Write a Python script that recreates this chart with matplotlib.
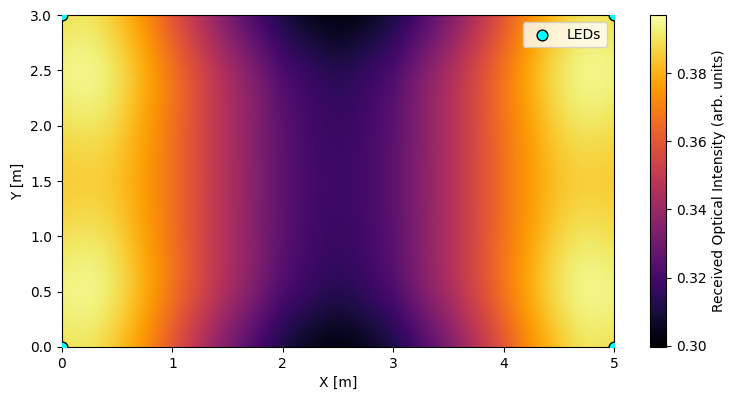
import numpy as np
import matplotlib
matplotlib.use('Agg')
import matplotlib.pyplot as plt

# grid positions of the sampled values [m]
x_m = [0.0, 0.25, 0.5, 0.75, 1.0, 1.25, 1.5, 1.75, 2.0, 2.25, 2.5,
       2.75, 3.0, 3.25, 3.5, 3.75, 4.0, 4.25, 4.5, 4.75, 5.0]
y_m = [0.0, 0.5, 1.0, 1.5, 2.0, 2.5, 3.0]

# received intensity, one list per row (arb. units)
row_y00 = [0.3878, 0.3905, 0.3824, 0.3727, 0.3581, 0.3445, 0.3308, 0.3182, 0.3085, 0.3026, 0.2997,
           0.3026, 0.3085, 0.3182, 0.3308, 0.3445, 0.3581, 0.3727, 0.3824, 0.3905, 0.3878]
row_y05 = [0.3950, 0.3970, 0.3922, 0.3810, 0.3688, 0.3571, 0.3454, 0.3357, 0.3221, 0.3182, 0.3133,
           0.3182, 0.3221, 0.3357, 0.3454, 0.3571, 0.3688, 0.3810, 0.3922, 0.3970, 0.3950]
row_y10 = [0.3885, 0.3915, 0.3873, 0.3766, 0.3668, 0.3552, 0.3445, 0.3347, 0.3250, 0.3192, 0.3162,
           0.3192, 0.3250, 0.3347, 0.3445, 0.3552, 0.3668, 0.3766, 0.3873, 0.3915, 0.3885]
row_y15 = [0.3834, 0.3844, 0.3824, 0.3756, 0.3668, 0.3561, 0.3454, 0.3357, 0.3250, 0.3201, 0.3182,
           0.3201, 0.3250, 0.3357, 0.3454, 0.3561, 0.3668, 0.3756, 0.3824, 0.3844, 0.3834]
# the room is symmetric top/bottom
row_y20 = row_y10
row_y25 = row_y05
row_y30 = row_y00

led_x = [0, 0, 5, 5]
led_y = [0, 3, 0, 3]

Z = np.array([row_y00, row_y05, row_y10, row_y15, row_y20, row_y25, row_y30])
dx = x_m[1] - x_m[0]
dy = y_m[1] - y_m[0]

fig = plt.figure(figsize=(7.36, 4.0), dpi=100)
ax = fig.add_axes([62/736, 53/400, 552/736, 332/400])
cax = fig.add_axes([650/736, 53/400, 16/736, 332/400])

im = ax.imshow(Z, origin='lower', cmap='inferno', interpolation='bicubic',
               extent=[x_m[0]-dx/2, x_m[-1]+dx/2, y_m[0]-dy/2, y_m[-1]+dy/2],
               aspect='auto')
ax.scatter(led_x, led_y, s=60, c='cyan', edgecolors='black', zorder=3, label='LEDs')
ax.set_xlim(0, 5)
ax.set_ylim(0, 3)
ax.set_xlabel('X [m]')
ax.set_ylabel('Y [m]')
ax.legend(loc='upper right')

cb = fig.colorbar(im, cax=cax)
cb.set_label('Received Optical Intensity (arb. units)')

plt.savefig('out.png', dpi=100)
